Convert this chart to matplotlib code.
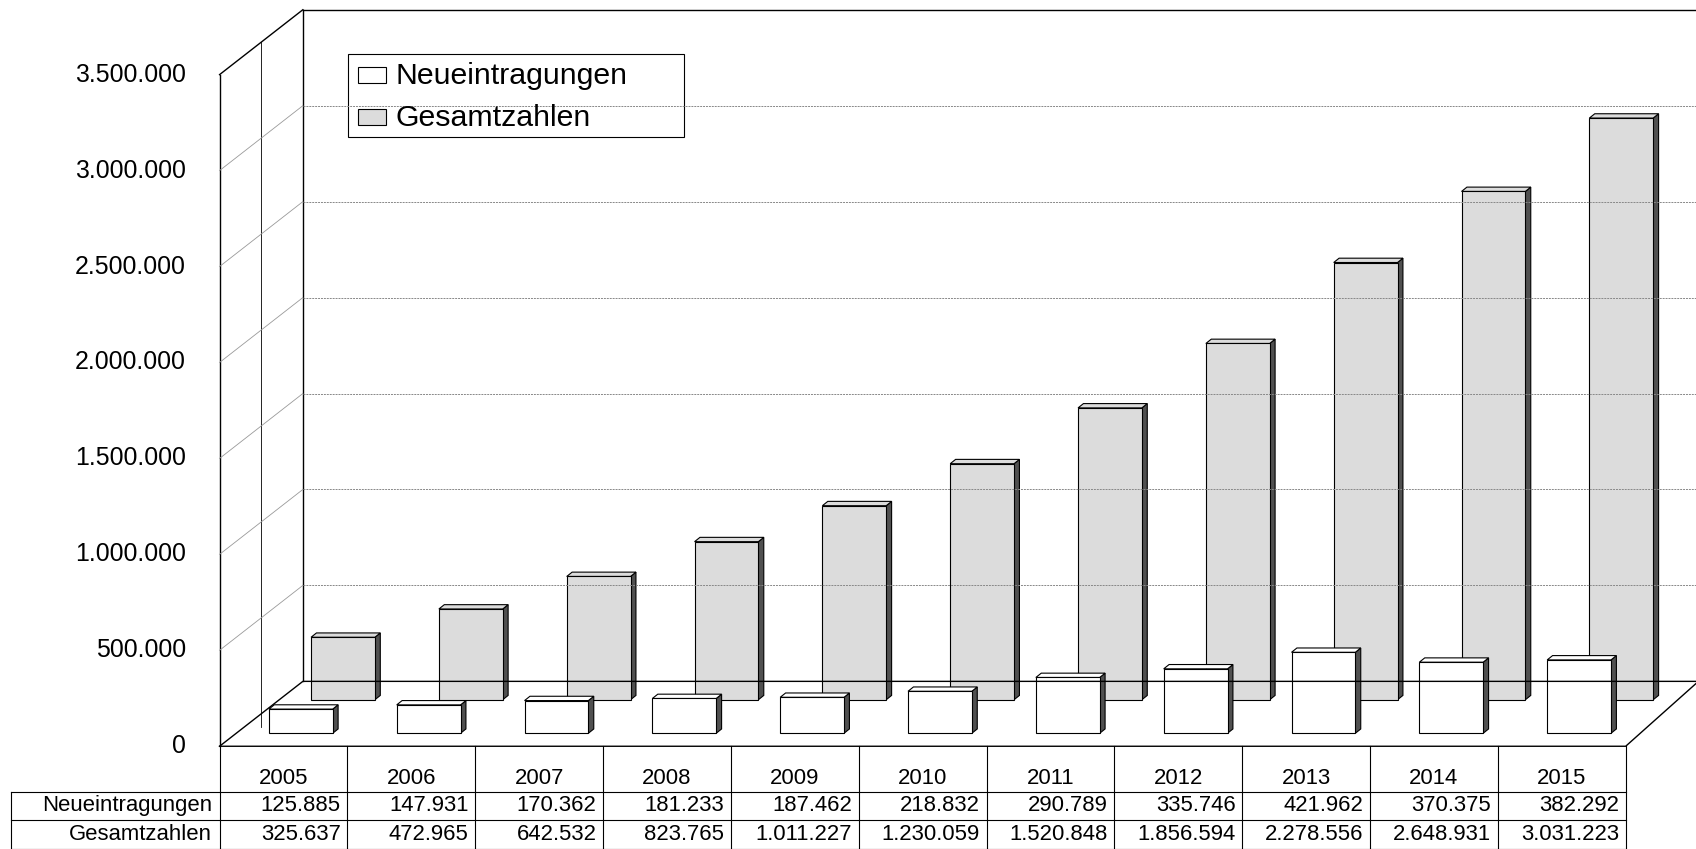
import matplotlib
matplotlib.use("Agg")
import matplotlib.pyplot as plt
from matplotlib.patches import Polygon, Rectangle

years = ["2005","2006","2007","2008","2009","2010","2011","2012","2013","2014","2015"]
neu = [125885,147931,170362,181233,187462,218832,290789,335746,421962,370375,382292]
ges = [325637,472965,642532,823765,1011227,1230059,1520848,1856594,2278556,2648931,3031223]
ticks = [0,500000,1000000,1500000,2000000,2500000,3000000,3500000]
tick_labels = ["0","500.000","1.000.000","1.500.000","2.000.000","2.500.000","3.000.000","3.500.000"]
fmt = lambda v: f"{v:,}".replace(",", ".")

plt.rcParams['font.family'] = ['Liberation Sans', 'DejaVu Sans']
fig = plt.figure(figsize=(16.96, 8.49), dpi=100)
ax = fig.add_axes([0, 0, 1, 1])
W, H = 1568, 785
ax.set_xlim(0, W); ax.set_ylim(H, 0); ax.axis('off')
k = 0.779  # display px -> pt

X0, X1, Y0 = 203, 1503, 690
DX, DY = 77, -60
S = 621.0 / 3500000
cw = (X1 - X0) / len(years)

lw = 1.0
ax.plot([X0, X0+DX, W+5], [Y0, Y0+DY, Y0+DY], 'k', lw=lw)
ax.plot([X0, X1, X1+65], [Y0, Y0, Y0-58], 'k', lw=lw)
ax.plot([X0+DX, X0+DX], [Y0+DY, Y0+DY-3500000*S], 'k', lw=lw)
ax.plot([X0+DX, W+5], [Y0+DY-3500000*S]*2, 'k', lw=lw)
ax.plot([X0, X0+DX], [Y0-3500000*S, Y0+DY-3500000*S], 'k', lw=lw)
ax.plot([X0, X0], [Y0, Y0-3500000*S], 'k', lw=lw)
ax.plot([X0+DX/2, X0+DX/2], [Y0+DY/2-3500000*S, Y0+DY/2+12], color='k', lw=0.6)
for t, lab in zip(ticks, tick_labels):
    y = Y0 - t*S
    if 0 < t < 3500000:
        ax.plot([X0+DX, W+5], [y+DY]*2, color='#888888', lw=0.7, ls=(0, (2, 1)))
        ax.plot([X0, X0+DX], [y, y+DY], color='#999999', lw=0.6)
    ax.text(172, y, lab, ha='right', va='center', fontsize=23*k)

def bar3d(xc, base, val, fc):
    w = 59; d = 5; dd = -4
    x0 = xc - w/2; top = base - val*S
    ax.add_patch(Polygon([[x0+w, base], [x0+w+d, base+dd], [x0+w+d, top+dd], [x0+w, top]],
                         closed=True, fc='#505050', ec='k', lw=0.8))
    ax.add_patch(Polygon([[x0, top], [x0+d, top+dd], [x0+w+d, top+dd], [x0+w, top]],
                         closed=True, fc=fc, ec='k', lw=0.8))
    ax.add_patch(Rectangle((x0, top), w, val*S, fc=fc, ec='k', lw=0.8))

for i in range(len(years)):
    xc = X0 + cw*(i+0.5)
    bar3d(xc + 55, Y0 - 43, ges[i], '#dcdcdc')
for i in range(len(years)):
    xc = X0 + cw*(i+0.5)
    bar3d(xc + 16, Y0 - 12, neu[i], 'white')

rows = [732, 758, 785]
for y in rows:
    ax.plot([10, X1], [y, y], 'k', lw=0.8)
ax.plot([10, 10], [732, 785], 'k', lw=0.8)
for i in range(len(years)+1):
    ax.plot([X0+cw*i]*2, [Y0, 785], 'k', lw=0.8)
fs = 20.5*k
for i, yr in enumerate(years):
    xc = X0 + cw*(i+0.5)
    ax.text(xc, 720, yr, ha='center', va='center', fontsize=fs)
    ax.text(X0+cw*(i+1)-6, 745, fmt(neu[i]), ha='right', va='center', fontsize=fs)
    ax.text(X0+cw*(i+1)-6, 772, fmt(ges[i]), ha='right', va='center', fontsize=fs)
ax.text(196, 745, "Neueintragungen", ha='right', va='center', fontsize=fs)
ax.text(196, 772, "Gesamtzahlen", ha='right', va='center', fontsize=fs)

ax.add_patch(Rectangle((322, 50), 310, 77, fc='white', ec='k', lw=0.8))
ax.add_patch(Rectangle((331, 62), 26, 15, fc='white', ec='k', lw=0.8))
ax.add_patch(Rectangle((331, 101), 26, 15, fc='#dcdcdc', ec='k', lw=0.8))
ax.text(366, 70, "Neueintragungen", va='center', fontsize=28*k)
ax.text(366, 109, "Gesamtzahlen", va='center', fontsize=28*k)

fig.savefig("out.png", dpi=100)
